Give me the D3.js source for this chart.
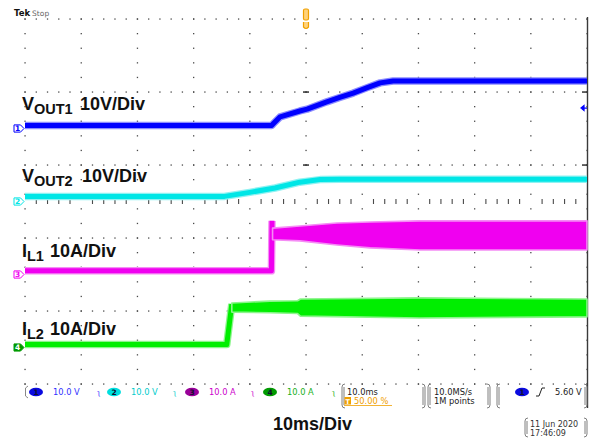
<!DOCTYPE html>
<html>
<head>
<meta charset="utf-8">
<script src="https://cdn.jsdelivr.net/npm/d3@7/dist/d3.min.js"></script>
<style>
  html, body { margin: 0; padding: 0; background: #fff; }
  svg { display: block; }
</style>
</head>
<body>
<svg id="scope" width="596" height="439"></svg>
<script>
// ---- acquisition: 10 ms/div, trigger at screen centre (t = 0) ----
const timeColumnsMs = [-50, -40, -30, -20, -10, 0, 10, 20, 30, 40, 50];
const denseRowsDiv  = [5, 3, 1, -1, -3, -5];

// ---- channel setup ----
const channelNumbers  = ["1", "2", "3", "4"];
const channelPerDiv   = [10, 10, 10, 10];          // V/div or A/div
const channelOffsetDiv = [2, 0, -2, -4];           // ground marker position
const channelSettings = ["10.0 V", "10.0 V", "10.0 A", "10.0 A"];

// ---- CH1: VOUT1 (V) ----
const vout1Time  = [-50, -6.1, -5.9, -4.6, -1.1, 0.2, 3.7, 6.0, 8.4, 10.9, 13.2, 15.5, 50];
const vout1Volts = [0.8, 0.8, 1.2, 3.2, 4.8, 5.3, 7.3, 8.5, 9.7, 11.2, 12.5, 13.0, 13.0];

// ---- CH2: VOUT2 (V) ----
const vout2Time  = [-50, -14.5, -10.0, -5.5, -1.1, 2.5, 6.0, 50];
const vout2Volts = [1.4, 1.4, 2.5, 3.7, 5.3, 6.0, 6.1, 6.1];

// ---- CH3: IL1 (A) ----
const il1Time = [-50, -6.15, -6.05];
const il1Amps = [1.0, 1.0, 14.7];
const il1RippleTime = [-5.95, -1.1, 5.5, 11.4, 20.3, 50];
const il1RippleHigh = [12.7, 13.3, 14.1, 14.4, 14.7, 14.7];
const il1RippleLow  = [9.5, 9.2, 8.1, 7.3, 6.7, 6.7];

// ---- CH4: IL2 (A) ----
const il2Time = [-50, -14.1, -13.2];
const il2Amps = [0.8, 0.8, 11.9];
const il2RippleTime = [-13.2, -6.4, -1.5, -1.0, 20.3, 50];
const il2RippleHigh = [12.2, 12.7, 12.8, 13.3, 13.6, 13.3];
const il2RippleLow  = [9.7, 9.5, 9.3, 8.6, 8.1, 8.4];

const triggerLevelVolts = 5.6;

// ---- colours ----
const core = ["#0000ff", "#00e6e6", "#f000f0", "#00ee00"];
const halo = ["#8c8cff", "#8ff2f2", "#f58cf5", "#8cf58c"];
const pill = ["#0a0ae0", "#00dede", "#990099", "#009a00"];
const textCol = ["#3232ff", "#00cccc", "#cc00cc", "#20b020"];
const orange = "#f0a000";

const svg = d3.select("#scope");
const x = d3.scaleLinear().domain([-50, 50]).range([25, 587]);
const yDiv = d3.scaleLinear().domain([-5, 5]).range([384, 19]);
const yOf = (ch, v) => yDiv(channelOffsetDiv[ch] + v / channelPerDiv[ch]);

// ---- graticule ----
const grid = svg.append("g").attr("fill", "#4a4a4a");
const colDots = [];
timeColumnsMs.forEach(t => d3.range(-5, 5.001, 0.4).forEach(d => colDots.push([x(t), yDiv(d)])));
denseRowsDiv.forEach(d => d3.range(-50, 50.001, 2).forEach(t => colDots.push([x(t), yDiv(d)])));
grid.selectAll("rect.dot").data(colDots).join("rect")
  .attr("class", "dot")
  .attr("x", d => d[0] - 0.6).attr("y", d => d[1] - 0.6)
  .attr("width", 1.3).attr("height", 1.3);

// centre row tick marks
const centreTicks = d3.range(-50, 50.001, 2).filter(t => Math.abs(t % 10) > 0.01);
grid.selectAll("rect.ctick").data(centreTicks).join("rect")
  .attr("class", "ctick")
  .attr("x", t => x(t) - 0.5).attr("y", yDiv(0) - 2.5)
  .attr("width", 1.1).attr("height", 5);

// dashes where dense rows cross the centre column and right edge
const dashRows = denseRowsDiv.filter(d => Math.abs(d) < 5);
[0, 50].forEach(t => {
  grid.selectAll(null).data(dashRows).join("rect")
    .attr("x", x(t) - (t === 50 ? 5 : 3)).attr("y", d => yDiv(d) - 0.7)
    .attr("width", 6).attr("height", 1.5).attr("fill", "#333");
});

// right edge
svg.append("line")
  .attr("x1", x(50) + 0.5).attr("x2", x(50) + 0.5)
  .attr("y1", yDiv(5) - 2).attr("y2", yDiv(-5) + 24)
  .attr("stroke", "#3a3a3a").attr("stroke-width", 1.4);

// ---- traces ----
const line = d3.line().x(d => d[0]).y(d => d[1]);
function drawTrace(ch, times, values) {
  const pts = times.map((t, i) => [x(t), yOf(ch, values[i])]);
  svg.append("path").attr("d", line(pts)).attr("fill", "none")
    .attr("stroke", halo[ch]).attr("stroke-width", 7.5).attr("stroke-linejoin", "round");
  svg.append("path").attr("d", line(pts)).attr("fill", "none")
    .attr("stroke", core[ch]).attr("stroke-width", 5).attr("stroke-linejoin", "round");
}
function drawRipple(ch, times, hi, lo) {
  const area = d3.area()
    .x((t) => x(t))
    .y0((t, i) => yOf(ch, lo[i]))
    .y1((t, i) => yOf(ch, hi[i]));
  svg.append("path").attr("d", area(times)).attr("fill", core[ch])
    .attr("stroke", halo[ch]).attr("stroke-width", 1.6).attr("stroke-linejoin", "round");
}

drawTrace(3, il2Time, il2Amps);
drawRipple(3, il2RippleTime, il2RippleHigh, il2RippleLow);
drawTrace(2, il1Time, il1Amps);
drawRipple(2, il1RippleTime, il1RippleHigh, il1RippleLow);
drawTrace(1, vout2Time, vout2Volts);
drawTrace(0, vout1Time, vout1Volts);

// ---- ground markers ----
channelNumbers.forEach((n, ch) => {
  const gy = yDiv(channelOffsetDiv[ch]);
  const g = svg.append("g").attr("transform", `translate(14,${gy})`);
  const filled = ch === 3;
  g.append("path")
    .attr("d", "M0,-3.6 L6.5,-3.6 L10,0 L6.5,3.6 L0,3.6 Z")
    .attr("fill", filled ? pill[ch] : "#fff")
    .attr("stroke", filled ? pill[ch] : core[ch]).attr("stroke-width", 1);
  g.append("text").attr("x", 3.5).attr("y", 2.8).attr("text-anchor", "middle")
    .attr("font-family", "DejaVu Sans").attr("font-size", 7.5).attr("font-weight", "bold")
    .attr("fill", filled ? "#fff" : core[ch]).text(n);
});

// trigger level arrow (right edge)
const trigY = yOf(0, triggerLevelVolts);
svg.append("path")
  .attr("d", `M${x(50) - 6},${trigY} L${x(50) - 3},${trigY - 2.5} L${x(50) - 3},${trigY + 2.5} Z M${x(50) - 4},${trigY} L${x(50)},${trigY}`)
  .attr("fill", core[0]).attr("stroke", core[0]).attr("stroke-width", 1.2);

// trigger position marker (top)
const tx = x(0);
svg.append("rect").attr("x", tx - 2.5).attr("y", 9).attr("width", 5).attr("height", 11)
  .attr("rx", 1.5).attr("fill", "#ffd27a").attr("stroke", orange).attr("stroke-width", 1.2);
svg.append("path")
  .attr("d", `M${tx - 2.5},22 L${tx - 2.5},27 Q${tx},30 ${tx + 2.5},27 L${tx + 2.5},22`)
  .attr("fill", "#ffd27a").attr("stroke", orange).attr("stroke-width", 1.2);

// ---- header ----
const hdr = svg.append("text").attr("x", 14).attr("y", 16)
  .attr("font-family", "DejaVu Sans").attr("font-size", 8.5);
hdr.append("tspan").attr("font-weight", "bold").attr("fill", "#111").text("Tek");
hdr.append("tspan").attr("dx", 2).attr("fill", "#666").attr("font-size", 7.5).text("Stop");

// ---- trace labels ----
const labelMain = ["V", "V", "I", "I"];
const labelSub  = ["OUT1", "OUT2", "L1", "L2"];
const labelScale = ["10V/Div", "10V/Div", "10A/Div", "10A/Div"];
const labelBase = [110, 182, 257, 335];
const labelScaleX = [80, 82, 50, 50];
labelMain.forEach((m, i) => {
  const t = svg.append("text").attr("x", 22).attr("y", labelBase[i])
    .attr("font-family", "Liberation Sans, Arial, sans-serif").attr("font-weight", "bold")
    .attr("font-size", 18).attr("fill", "#111");
  t.append("tspan").text(m);
  t.append("tspan").attr("font-size", 14.5).attr("dy", 4).text(labelSub[i]);
  t.append("tspan").attr("x", labelScaleX[i]).attr("dy", -4).text(labelScale[i]);
});

// ---- status bar ----
const sb = svg.append("g").attr("font-family", "DejaVu Sans").attr("font-size", 8.3);
const rowY = 392;
const pillX = [36, 114, 192, 270];
const setX = [53, 131, 209, 287];
const symX = [97, 173, 251, 332];
channelNumbers.forEach((n, ch) => {
  sb.append("ellipse").attr("cx", pillX[ch]).attr("cy", rowY).attr("rx", 7).attr("ry", 4.3).attr("fill", pill[ch]);
  sb.append("text").attr("x", pillX[ch]).attr("y", rowY + 3).attr("text-anchor", "middle")
    .attr("font-size", 7.5).attr("font-weight", "bold").attr("fill", "#101030").text(n);
  sb.append("text").attr("x", setX[ch]).attr("y", rowY + 3).attr("fill", textCol[ch]).text(channelSettings[ch]);
  sb.append("text").attr("x", symX[ch]).attr("y", rowY + 3).attr("fill", textCol[ch]).attr("font-size", 7.5).text("ʅ");
});
sb.append("path").attr("d", "M28,386 L25.5,388 L25.5,396 L28,398").attr("fill", "none").attr("stroke", "#888");

function bracketBox(x0, x1, y0, y1) {
  const s = "#707070";
  sb.append("path").attr("d", `M${x0 + 3},${y0} Q${x0},${y0} ${x0},${y0 + 3} L${x0},${y1 - 3} Q${x0},${y1} ${x0 + 3},${y1} M${x0 + 2},${y0 + 3} L${x0 + 2},${y1 - 3}`)
    .attr("fill", "none").attr("stroke", s).attr("stroke-width", 0.9);
  sb.append("path").attr("d", `M${x1 - 3},${y0} Q${x1},${y0} ${x1},${y0 + 3} L${x1},${y1 - 3} Q${x1},${y1} ${x1 - 3},${y1} M${x1 - 2},${y0 + 3} L${x1 - 2},${y1 - 3}`)
    .attr("fill", "none").attr("stroke", s).attr("stroke-width", 0.9);
}
bracketBox(342, 425, 384, 408);
bracketBox(428, 490, 384, 408);
bracketBox(497, 587, 384, 408);
bracketBox(525, 587, 418, 437);

sb.append("text").attr("x", 347).attr("y", rowY + 3).attr("fill", "#222").text("10.0ms");
sb.append("rect").attr("x", 344.5).attr("y", 397).attr("width", 6.5).attr("height", 7.5).attr("fill", orange);
sb.append("text").attr("x", 347.8).attr("y", 403.5).attr("text-anchor", "middle").attr("font-size", 6.5)
  .attr("font-weight", "bold").attr("fill", "#fff").text("T");
sb.append("line").attr("x1", 344).attr("x2", 392).attr("y1", 405.5).attr("y2", 405.5).attr("stroke", orange).attr("stroke-width", 0.8);
sb.append("text").attr("x", 354).attr("y", 403.5).attr("fill", orange).text("50.00 %");

sb.append("text").attr("x", 434).attr("y", rowY + 3).attr("fill", "#222").text("10.0MS/s");
sb.append("text").attr("x", 434).attr("y", 403.5).attr("fill", "#222").text("1M points");

sb.append("ellipse").attr("cx", 522).attr("cy", rowY).attr("rx", 7).attr("ry", 4.3).attr("fill", pill[0]);
sb.append("text").attr("x", 522).attr("y", rowY + 3).attr("text-anchor", "middle")
  .attr("font-size", 7.5).attr("font-weight", "bold").attr("fill", "#101030").text("1");
sb.append("path").attr("d", "M536,396 L539,396 L542,388 L545,388").attr("fill", "none").attr("stroke", "#222").attr("stroke-width", 1);
sb.append("text").attr("x", 555).attr("y", rowY + 3).attr("fill", "#222").text("5.60 V");

sb.append("text").attr("x", 530).attr("y", 427).attr("fill", "#333").attr("font-size", 8).text("11 Jun  2020");
sb.append("text").attr("x", 530).attr("y", 435.5).attr("fill", "#333").attr("font-size", 8).text("17:46:09");

// ---- timebase caption ----
svg.append("text").attr("x", 273).attr("y", 430)
  .attr("font-family", "Liberation Sans, Arial, sans-serif").attr("font-weight", "bold")
  .attr("font-size", 18).attr("fill", "#111").text("10ms/Div");
</script>
</body>
</html>
